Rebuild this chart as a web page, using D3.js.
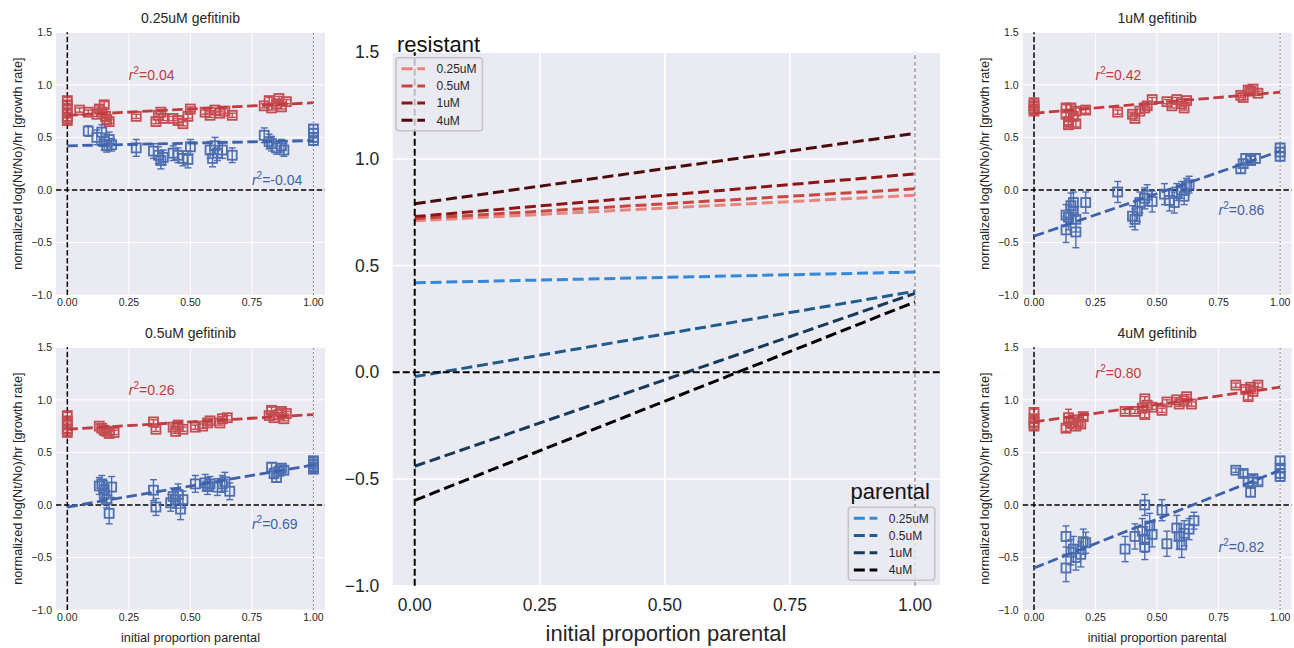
<!DOCTYPE html>
<html>
<head>
<meta charset="utf-8">
<script src="https://cdn.jsdelivr.net/npm/d3@7"></script>
<style>
  body { margin: 0; background: #fff; }
  text { font-family: "Liberation Sans", Arial, sans-serif; fill: #262626; }
</style>
</head>
<body>
<div id="chart"></div>
<script>
var svgWidth = 1294;
var svgHeight = 648;

// doses and fitted lines (value at x=0, value at x=1)
var doses = ["0.25uM", "0.5uM", "1uM", "4uM"];
var resistantFit = [[0.71, 0.83], [0.72, 0.86], [0.73, 0.93], [0.79, 1.12]];
var parentalFit = [[0.42, 0.47], [-0.02, 0.38], [-0.44, 0.37], [-0.60, 0.33]];
var r2Resistant = ["0.04", "0.26", "0.42", "0.80"];
var r2Parental = ["-0.04", "0.69", "0.86", "0.82"];
var r2ResistantAt = [[0.25, 1.05], [0.25, 1.05], [0.25, 1.05], [0.25, 1.21]];
var r2ParentalAt = [[0.75, 0.05], [0.75, -0.23], [0.75, -0.24], [0.75, -0.45]];

var xTicks = [0, 0.25, 0.5, 0.75, 1];
var yTicks = [-1, -0.5, 0, 0.5, 1, 1.5];

// points: [initial proportion parental, growth rate, error]
var resistant025 = [
  [0,0.85,.03],[0,0.81,.03],[0,0.77,.03],[0,0.73,.03],[0,0.69,.03],[0,0.66,.03],
  [0.05,0.76,.02],[0.085,0.74,.02],[0.12,0.72,.02],[0.13,0.77,.03],[0.14,0.74,.02],[0.15,0.81,.03],
  [0.155,0.70,.02],[0.16,0.67,.02],[0.17,0.65,.02],[0.28,0.70,.02],
  [0.36,0.65,.02],[0.37,0.71,.02],[0.38,0.74,.02],[0.39,0.68,.02],
  [0.43,0.68,.02],[0.45,0.66,.02],[0.47,0.63,.02],[0.49,0.70,.02],[0.50,0.77,.02],
  [0.56,0.74,.02],[0.58,0.71,.02],[0.60,0.76,.02],[0.62,0.73,.02],[0.64,0.75,.02],[0.67,0.71,.02],
  [0.80,0.80,.02],[0.82,0.85,.03],[0.83,0.78,.02],[0.85,0.82,.02],[0.86,0.87,.02],[0.87,0.79,.02],[0.89,0.84,.02]
];
var parental025 = [
  [0.085,0.56,.05],[0.12,0.50,.07],[0.14,0.55,.07],[0.15,0.46,.08],[0.16,0.42,.06],[0.17,0.48,.07],[0.18,0.43,.06],
  [0.28,0.40,.08],[0.35,0.37,.07],[0.37,0.33,.08],[0.38,0.28,.08],[0.39,0.31,.07],
  [0.43,0.35,.07],[0.45,0.33,.07],[0.47,0.30,.07],[0.49,0.29,.08],[0.50,0.41,.07],
  [0.58,0.38,.08],[0.59,0.30,.08],[0.60,0.42,.08],[0.61,0.35,.07],[0.63,0.38,.08],[0.67,0.33,.07],
  [0.80,0.52,.07],[0.82,0.46,.07],[0.83,0.44,.07],[0.85,0.40,.06],[0.87,0.42,.06],[0.88,0.38,.06],
  [1,0.58,.04],[1,0.54,.04],[1,0.50,.04],[1,0.47,.04]
];
var resistant05 = [
  [0,0.85,.03],[0,0.80,.03],[0,0.76,.03],[0,0.72,.03],[0,0.69,.03],
  [0.13,0.75,.02],[0.14,0.73,.02],[0.15,0.71,.02],[0.16,0.70,.02],[0.17,0.68,.02],[0.19,0.69,.02],
  [0.35,0.79,.02],[0.36,0.72,.02],[0.43,0.74,.02],[0.44,0.70,.02],[0.45,0.76,.02],[0.47,0.72,.02],
  [0.52,0.74,.02],[0.55,0.75,.02],[0.57,0.78,.02],[0.58,0.80,.02],[0.62,0.78,.02],[0.63,0.82,.02],[0.65,0.83,.02],
  [0.82,0.85,.02],[0.83,0.90,.03],[0.84,0.83,.02],[0.86,0.86,.02],[0.87,0.89,.03],[0.88,0.82,.02],[0.89,0.87,.02]
];
var parental05 = [
  [0.13,0.18,.08],[0.14,0.20,.08],[0.15,0.15,.08],[0.15,0.10,.08],[0.16,0.05,.08],[0.17,-0.08,.1],[0.18,0.17,.1],
  [0.35,0.14,.1],[0.36,-0.02,.08],
  [0.42,0.02,.08],[0.43,0.08,.08],[0.44,0.05,.08],[0.45,0.10,.1],[0.46,-0.04,.1],[0.47,0.05,.08],
  [0.52,0.20,.08],[0.56,0.21,.08],[0.57,0.18,.08],[0.58,0.20,.07],
  [0.61,0.17,.08],[0.63,0.20,.08],[0.64,0.22,.09],[0.66,0.13,.08],
  [0.83,0.36,.04],[0.84,0.30,.05],[0.85,0.26,.04],[0.86,0.32,.04],[0.87,0.35,.04],[0.88,0.33,.04],
  [1,0.42,.03],[1,0.39,.03],[1,0.36,.03],[1,0.34,.03]
];
var resistant1 = [
  [0,0.83,.03],[0,0.80,.03],[0,0.77,.03],[0,0.75,.03],
  [0.13,0.78,.03],[0.13,0.72,.03],[0.14,0.65,.03],[0.14,0.62,.03],[0.15,0.78,.03],[0.16,0.70,.03],
  [0.17,0.75,.03],[0.17,0.63,.03],[0.21,0.76,.03],[0.34,0.74,.02],
  [0.40,0.72,.02],[0.41,0.68,.02],[0.43,0.75,.02],[0.45,0.78,.02],[0.46,0.80,.02],[0.48,0.86,.02],
  [0.54,0.84,.02],[0.56,0.80,.02],[0.58,0.86,.02],[0.60,0.82,.02],[0.61,0.78,.02],[0.62,0.85,.02],
  [0.84,0.90,.02],[0.85,0.88,.02],[0.87,0.95,.02],[0.88,0.94,.02],[0.89,0.96,.02],[0.91,0.92,.02]
];
var parental1 = [
  [0.13,-0.24,.1],[0.13,-0.38,.12],[0.14,-0.26,.12],[0.15,-0.15,.12],[0.16,-0.20,.12],[0.16,-0.12,.1],
  [0.17,-0.28,.12],[0.17,-0.40,.15],[0.21,-0.12,.1],[0.34,-0.02,.1],
  [0.40,-0.25,.1],[0.41,-0.28,.1],[0.42,-0.20,.1],[0.43,-0.12,.1],[0.45,-0.08,.1],[0.46,-0.05,.1],[0.48,-0.11,.1],
  [0.53,-0.04,.1],[0.55,-0.10,.1],[0.57,-0.12,.1],[0.58,-0.02,.08],[0.60,0.0,.08],[0.61,-0.06,.08],[0.62,0.03,.08],[0.63,0.05,.08],
  [0.84,0.20,.04],[0.85,0.25,.04],[0.86,0.30,.04],[0.88,0.28,.04],[0.90,0.30,.04],
  [1,0.40,.04],[1,0.36,.04],[1,0.32,.04]
];
var resistant4 = [
  [0,0.88,.03],[0,0.82,.03],[0,0.78,.03],[0,0.75,.03],
  [0.13,0.73,.03],[0.14,0.83,.08],[0.15,0.78,.05],[0.16,0.81,.04],[0.17,0.75,.04],[0.18,0.79,.04],[0.19,0.77,.04],[0.20,0.84,.03],
  [0.37,0.89,.02],[0.41,0.89,.02],[0.44,0.92,.02],[0.45,0.86,.03],[0.45,1.01,.02],[0.46,0.95,.02],[0.48,0.93,.02],
  [0.52,0.90,.02],[0.54,0.98,.02],[0.58,1.00,.02],[0.59,0.96,.02],[0.61,0.99,.02],[0.62,1.03,.02],[0.64,0.96,.02],
  [0.82,1.14,.02],[0.86,1.10,.02],[0.87,1.03,.03],[0.88,1.12,.02],[0.89,1.08,.02],[0.91,1.14,.02]
];
var parental4 = [
  [0.13,-0.30,.1],[0.13,-0.60,.13],[0.15,-0.45,.12],[0.16,-0.42,.12],[0.17,-0.50,.12],[0.19,-0.47,.12],[0.20,-0.35,.12],[0.21,-0.36,.1],
  [0.37,-0.42,.12],[0.41,-0.30,.12],[0.44,-0.25,.12],[0.45,0.0,.1],[0.45,-0.33,.12],[0.45,-0.40,.12],[0.47,-0.20,.12],[0.48,-0.28,.12],
  [0.52,-0.05,.1],[0.54,-0.37,.12],[0.58,-0.22,.12],[0.59,-0.30,.12],[0.60,-0.38,.12],[0.61,-0.27,.12],[0.63,-0.23,.1],[0.65,-0.15,.08],
  [0.82,0.33,.02],[0.85,0.30,.03],[0.87,0.22,.04],[0.88,0.12,.04],[0.89,0.25,.03],[0.91,0.22,.03],
  [1,0.42,.04],[1,0.35,.04],[1,0.30,.04],[1,0.27,.04]
];
var resistantPoints = [resistant025, resistant05, resistant1, resistant4];
var parentalPoints = [parental025, parental05, parental1, parental4];

var resistantColors = ["#e8857c", "#c8463f", "#8c1616", "#4c0b0b"];
var parentalColors = ["#3489d8", "#1f5c8c", "#17395a", "#000000"];
var red = "#c13b3f";
var blue = "#3d62ab";
var bg = "#eaeaf2";

var svg = d3.select("#chart")
    .append("svg")
    .attr("width", svgWidth)
    .attr("height", svgHeight);

var fmtX = d3.format(".2f");
function fmtY(d) { return d3.format(".1f")(d).replace("-", "\u2212"); }

function drawFrame(g, x, y, gridWidth) {
    var r = x.range(), q = y.range();
    g.append("rect")
        .attr("x", r[0]).attr("y", q[1])
        .attr("width", r[1] - r[0]).attr("height", q[0] - q[1])
        .attr("fill", bg);
    g.selectAll("line.gx").data(xTicks).enter().append("line")
        .attr("x1", d => x(d)).attr("x2", d => x(d))
        .attr("y1", q[0]).attr("y2", q[1])
        .attr("stroke", "#fff").attr("stroke-width", gridWidth);
    g.selectAll("line.gy").data(yTicks).enter().append("line")
        .attr("x1", r[0]).attr("x2", r[1])
        .attr("y1", d => y(d)).attr("y2", d => y(d))
        .attr("stroke", "#fff").attr("stroke-width", gridWidth);
}

function refLines(g, x, y, w, dash, greyColor, greyDash) {
    var r = x.range(), q = y.range();
    g.append("line")
        .attr("x1", x(1)).attr("x2", x(1)).attr("y1", q[0]).attr("y2", q[1])
        .attr("stroke", greyColor).attr("stroke-width", 1).attr("stroke-dasharray", greyDash);
    g.append("line")
        .attr("x1", r[0]).attr("x2", r[1]).attr("y1", y(0)).attr("y2", y(0))
        .attr("stroke", "#000").attr("stroke-width", w).attr("stroke-dasharray", dash);
    g.append("line")
        .attr("x1", x(0)).attr("x2", x(0)).attr("y1", q[0]).attr("y2", q[1])
        .attr("stroke", "#000").attr("stroke-width", w).attr("stroke-dasharray", dash);
}

function tickLabels(g, x, y, size, xGap, yGap) {
    var q = y.range();
    g.selectAll("text.tx").data(xTicks).enter().append("text")
        .attr("x", d => x(d)).attr("y", q[0] + xGap)
        .attr("text-anchor", "middle")
        .style("font-size", size + "px")
        .text(d => fmtX(d));
    g.selectAll("text.ty").data(yTicks).enter().append("text")
        .attr("x", x.range()[0] - yGap).attr("y", d => y(d))
        .attr("dy", "0.35em")
        .attr("text-anchor", "end")
        .style("font-size", size + "px")
        .text(d => fmtY(d));
}

function drawPoints(g, x, y, pts, color) {
    var grp = g.append("g").attr("opacity", 0.9);
    var s = 9;
    grp.selectAll("line.err").data(pts).enter().append("line")
        .attr("x1", d => x(d[0])).attr("x2", d => x(d[0]))
        .attr("y1", d => y(d[1] - d[2])).attr("y2", d => y(d[1] + d[2]))
        .attr("stroke", color).attr("stroke-width", 1.4);
    [-1, 1].forEach(function(sign) {
        grp.selectAll("line.cap" + sign).data(pts).enter().append("line")
            .attr("x1", d => x(d[0]) - 3.5).attr("x2", d => x(d[0]) + 3.5)
            .attr("y1", d => y(d[1] + sign * d[2])).attr("y2", d => y(d[1] + sign * d[2]))
            .attr("stroke", color).attr("stroke-width", 1.4);
    });
    grp.selectAll("rect").data(pts).enter().append("rect")
        .attr("x", d => x(d[0]) - s / 2).attr("y", d => y(d[1]) - s / 2)
        .attr("width", s).attr("height", s)
        .attr("fill", "none").attr("stroke", color).attr("stroke-width", 1.8);
}

function fitLine(g, x, y, fit, color, w, dash) {
    g.append("path")
        .datum([[0, fit[0]], [1, fit[1]]])
        .attr("d", d3.line().x(d => x(d[0])).y(d => y(d[1])))
        .attr("fill", "none").attr("stroke", color)
        .attr("stroke-width", w).attr("stroke-dasharray", dash);
}

function r2Label(g, x, y, pos, value, color) {
    var t = g.append("text")
        .attr("x", x(pos[0])).attr("y", y(pos[1]))
        .style("font-size", "14px").style("fill", color);
    t.append("tspan").style("font-style", "italic").style("fill", color).text("r");
    t.append("tspan").attr("dy", -6).style("font-size", "10px").style("fill", color).text("2");
    t.append("tspan").attr("dy", 6).style("fill", color).text("=" + value);
}

// small panels
var panels = [
    {x0: 56, x1: 325, y0: 32.3, y1: 295, xlabel: false},
    {x0: 56, x1: 325, y0: 347.3, y1: 610, xlabel: true},
    {x0: 1022.7, x1: 1291.7, y0: 32.3, y1: 295, xlabel: false},
    {x0: 1022.7, x1: 1291.7, y0: 347.3, y1: 610, xlabel: true}
];

panels.forEach(function(p, i) {
    var g = svg.append("g");
    var x = d3.scaleLinear().domain([-0.046, 1.047]).range([p.x0, p.x1]);
    var y = d3.scaleLinear().domain([-1, 1.5]).range([p.y1, p.y0]);
    drawFrame(g, x, y, 1);
    refLines(g, x, y, 1.5, "5.5,2.4", "#8a8a8a", "2,2");
    drawPoints(g, x, y, resistantPoints[i], red);
    drawPoints(g, x, y, parentalPoints[i], blue);
    fitLine(g, x, y, resistantFit[i], red, 2.8, "10.5,4.5");
    fitLine(g, x, y, parentalFit[i], blue, 2.8, "10.5,4.5");
    r2Label(g, x, y, r2ResistantAt[i], r2Resistant[i], red);
    r2Label(g, x, y, r2ParentalAt[i], r2Parental[i], blue);
    tickLabels(g, x, y, 10.5, 10.5, 4);

    g.append("text")
        .attr("x", (p.x0 + p.x1) / 2).attr("y", p.y0 - 9.5)
        .attr("text-anchor", "middle")
        .style("font-size", "14px")
        .text(doses[i] + " gefitinib");
    g.append("text")
        .attr("transform", "rotate(-90)")
        .attr("x", -(p.y0 + p.y1) / 2).attr("y", p.x0 - 38)
        .attr("dy", "0.35em")
        .attr("text-anchor", "middle")
        .style("font-size", "12.7px")
        .text("normalized log(Nt/No)/hr [growth rate]");
    if (p.xlabel) {
        g.append("text")
            .attr("x", (p.x0 + p.x1) / 2).attr("y", 641.5)
            .attr("text-anchor", "middle")
            .style("font-size", "12.7px")
            .text("initial proportion parental");
    }
});

// central summary panel
var cg = svg.append("g");
var cx = d3.scaleLinear().domain([-0.044, 1.05]).range([392.7, 940]);
var cy = d3.scaleLinear().domain([-1, 1.5]).range([585.7, 52.3]);
drawFrame(cg, cx, cy, 1.6);
doses.forEach(function(d, i) {
    fitLine(cg, cx, cy, resistantFit[i], resistantColors[i], 3, "11,4.8");
});
doses.forEach(function(d, i) {
    fitLine(cg, cx, cy, parentalFit[i], parentalColors[i], 3, "11,4.8");
});
refLines(cg, cx, cy, 2, "7,3", "#666", "4,2.5");
tickLabels(cg, cx, cy, 17.5, 25, 13.4);

cg.append("text")
    .attr("x", 666).attr("y", 641)
    .attr("text-anchor", "middle")
    .style("font-size", "22px")
    .text("initial proportion parental");

function legend(g, bx, by, colors) {
    g.append("rect")
        .attr("x", bx).attr("y", by).attr("width", 86.5).attr("height", 73)
        .attr("rx", 3)
        .attr("fill", bg).attr("fill-opacity", 0.8)
        .attr("stroke", "#c4c4c4").attr("stroke-width", 1.5);
    var rows = g.selectAll("g.row").data(doses).enter().append("g")
        .attr("transform", (d, i) => `translate(${bx}, ${by + 11 + i * 17.2})`);
    rows.append("line")
        .attr("x1", 5.5).attr("x2", 29).attr("y1", 0).attr("y2", 0)
        .attr("stroke", (d, i) => colors[i])
        .attr("stroke-width", 3).attr("stroke-dasharray", "11,4.8");
    rows.append("text")
        .attr("x", 40.5).attr("y", 0).attr("dy", "0.35em")
        .style("font-size", "12px")
        .text(d => d);
}

cg.append("text")
    .attr("x", 397).attr("y", 51.5)
    .style("font-size", "22px").style("fill", "#111")
    .text("resistant");
legend(cg, 396, 57.7, resistantColors);

cg.append("text")
    .attr("x", 930).attr("y", 498.5)
    .attr("text-anchor", "end")
    .style("font-size", "22px").style("fill", "#111")
    .text("parental");
legend(cg, 848.3, 507.3, parentalColors);
</script>
</body>
</html>
